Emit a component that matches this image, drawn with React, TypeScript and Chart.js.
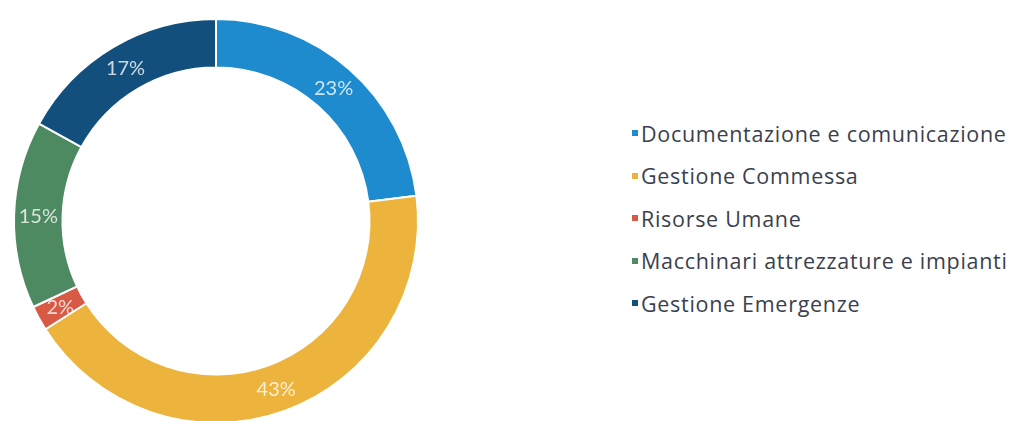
import React, { useEffect, useRef } from "react";
import { Chart, registerables } from "chart.js";

Chart.register(...registerables);

const categories = [
  "Documentazione e comunicazione",
  "Gestione Commessa",
  "Risorse Umane",
  "Macchinari attrezzature e impianti",
  "Gestione Emergenze",
];
const values = [23, 43, 2, 15, 17];
const colors = ["#1e8bcf", "#ecb43c", "#d95a44", "#4d8a62", "#124f7c"];

const labelPlugin = {
  id: "pctLabels",
  afterDatasetsDraw(chart: any) {
    const ctx = chart.ctx;
    const meta = chart.getDatasetMeta(0);
    const data = chart.data.datasets[0].data as number[];
    ctx.save();
    ctx.font = "400 20px Lato";
    ctx.fillStyle = "rgba(255,255,255,0.78)";
    ctx.textAlign = "center";
    ctx.textBaseline = "middle";
    meta.data.forEach((arc: any, i: number) => {
      const p = arc.tooltipPosition();
      ctx.fillText(data[i] + "%", p.x, p.y + 1);
    });
    ctx.restore();
  },
};

export default function App() {
  const ref = useRef<HTMLCanvasElement>(null);
  useEffect(() => {
    if (!ref.current) return;
    const chart = new Chart(ref.current, {
      type: "doughnut",
      data: {
        labels: categories,
        datasets: [
          {
            data: values,
            backgroundColor: colors,
            borderColor: "#ffffff",
            borderWidth: 2,
          },
        ],
      },
      options: {
        animation: false,
        responsive: false,
        maintainAspectRatio: false,
        cutout: "76%",
        layout: { padding: { left: 13, right: 13, top: 18, bottom: 18 } },
        plugins: {
          legend: { display: false },
          tooltip: { enabled: false },
        },
      },
      plugins: [labelPlugin],
    });
    return () => chart.destroy();
  }, []);

  return (
    <div
      style={{
        position: "absolute",
        left: 0,
        top: 0,
        width: 1013,
        height: 421,
        overflow: "hidden",
        background: "#ffffff",
      }}
    >
      <canvas
        ref={ref}
        width={432}
        height={442}
        style={{ position: "absolute", left: 0, top: 0, width: 432, height: 442 }}
      />
      <div
        style={{
          position: "absolute",
          left: 632,
          top: 112,
          fontFamily: "'Open Sans'",
          fontSize: 21.5,
          letterSpacing: 0.7,
          color: "#3a3f4e",
        }}
      >
        {categories.map((c, i) => (
          <div
            key={c}
            style={{ height: 42.5, display: "flex", alignItems: "center", whiteSpace: "nowrap" }}
          >
            <span
              style={{
                display: "inline-block",
                width: 6,
                height: 6,
                background: colors[i],
                marginRight: 3,
              }}
            />
            <span>{c}</span>
          </div>
        ))}
      </div>
    </div>
  );
}
